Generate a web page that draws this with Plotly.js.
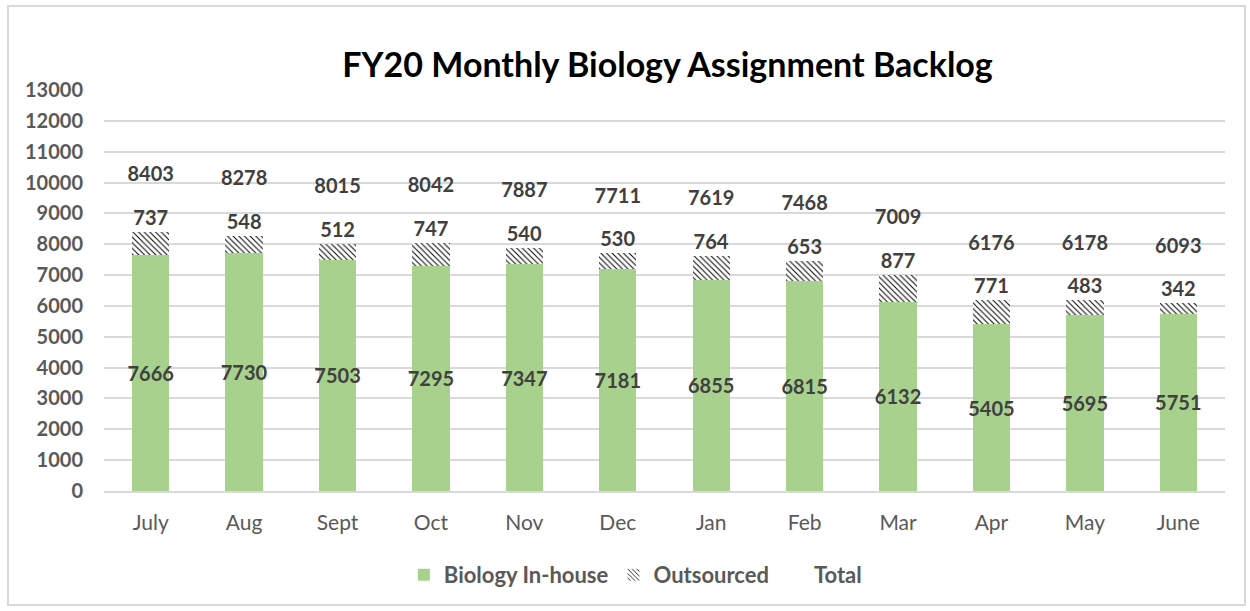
<!DOCTYPE html>
<html>
<head>
<meta charset="utf-8">
<script src="https://cdn.plot.ly/plotly-3.0.1.min.js"></script>
<style>
  html, body { margin: 0; padding: 0; background: #fff; }
  #wrap { position: relative; width: 1250px; height: 611px; }
  #chart { width: 1250px; height: 611px; }
  #frame { position: absolute; left: 7px; top: 5px; width: 1239px; height: 601px;
           border: 2px solid #d9d9d9; pointer-events: none; box-sizing: border-box; }
</style>
</head>
<body>
<div id="wrap">
  <div id="chart"></div>
  <div id="frame"></div>
</div>
<script>
const months = ["July", "Aug", "Sept", "Oct", "Nov", "Dec", "Jan", "Feb", "Mar", "Apr", "May", "June"];
const inHouse = [7666, 7730, 7503, 7295, 7347, 7181, 6855, 6815, 6132, 5405, 5695, 5751];
const outsourced = [737, 548, 512, 747, 540, 530, 764, 653, 877, 771, 483, 342];
const totals = [8403, 8278, 8015, 8042, 7887, 7711, 7619, 7468, 7009, 6176, 6178, 6093];
const yTicks = [0, 1000, 2000, 3000, 4000, 5000, 6000, 7000, 8000, 9000, 10000, 11000, 12000, 13000];

const FONT = "Lato, 'Open Sans', sans-serif";
const labelFont = { family: FONT, size: 20, color: "#404040", weight: 700 };
const totalLabelGap = 1800;

const traces = [
  {
    type: "bar", name: "Biology In-house", x: months, y: inHouse,
    marker: { color: "#a9d18e" },
    text: inHouse.map(String), textposition: "inside", insidetextanchor: "middle", textangle: 0,
    textfont: labelFont, insidetextfont: labelFont, constraintext: "none", hoverinfo: "x+y"
  },
  {
    type: "bar", name: "Outsourced", x: months, y: outsourced,
    marker: { color: "#ffffff", pattern: { shape: "\\", fgcolor: "#000000", bgcolor: "#ffffff", size: 4, solidity: 0.25 } },
    text: outsourced.map(String), textposition: "outside", textangle: 0,
    textfont: labelFont, outsidetextfont: labelFont, constraintext: "none", cliponaxis: false, hoverinfo: "x+y"
  },
  {
    type: "scatter", mode: "text", name: "Total", x: months,
    y: totals.map(v => v + totalLabelGap),
    text: totals.map(String), textposition: "middle center",
    textfont: labelFont, showlegend: false, cliponaxis: false, hoverinfo: "skip"
  },
  {
    type: "bar", name: "Total", x: [months[0]], y: [0],
    marker: { color: "rgba(0,0,0,0)" }, showlegend: true, hoverinfo: "skip"
  }
];

const layout = {
  width: 1250, height: 611,
  margin: { l: 104, r: 25, t: 90, b: 120, autoexpand: false },
  paper_bgcolor: "#ffffff", plot_bgcolor: "#ffffff",
  barmode: "stack", bargap: 0.6,
  title: { text: "FY20 Monthly Biology Assignment Backlog", x: 0.534, xanchor: "center",
           yref: "container", y: 0.893, yanchor: "middle",
           font: { family: FONT, size: 34, color: "#000000", weight: 700 } },
  xaxis: {
    type: "category", categoryorder: "array", categoryarray: months, automargin: false,
    range: [-0.5, months.length - 0.5], autorange: false,
    tickfont: { family: FONT, size: 21, color: "#595959" },
    showgrid: false, showline: true, linecolor: "#d9d9d9", linewidth: 2,
    ticks: "", ticklabelstandoff: 12, fixedrange: true
  },
  yaxis: {
    range: [0, 13000], tickvals: yTicks, ticktext: yTicks.map(String), automargin: false,
    tickfont: { family: FONT, size: 20, color: "#595959", weight: 700 },
    showgrid: true, gridcolor: "#d9d9d9", gridwidth: 2,
    zeroline: false, showline: false, ticks: "", ticklabelstandoff: 20, fixedrange: true
  },
  legend: {
    orientation: "h", x: 0.474, xanchor: "center", yref: "container", y: 0.059, yanchor: "middle",
    font: { family: FONT, size: 22, color: "#595959", weight: 700 },
    itemwidth: 30, traceorder: "normal"
  },
  showlegend: true
};

Plotly.newPlot("chart", traces, layout, { displayModeBar: false, staticPlot: true });
</script>
</body>
</html>
